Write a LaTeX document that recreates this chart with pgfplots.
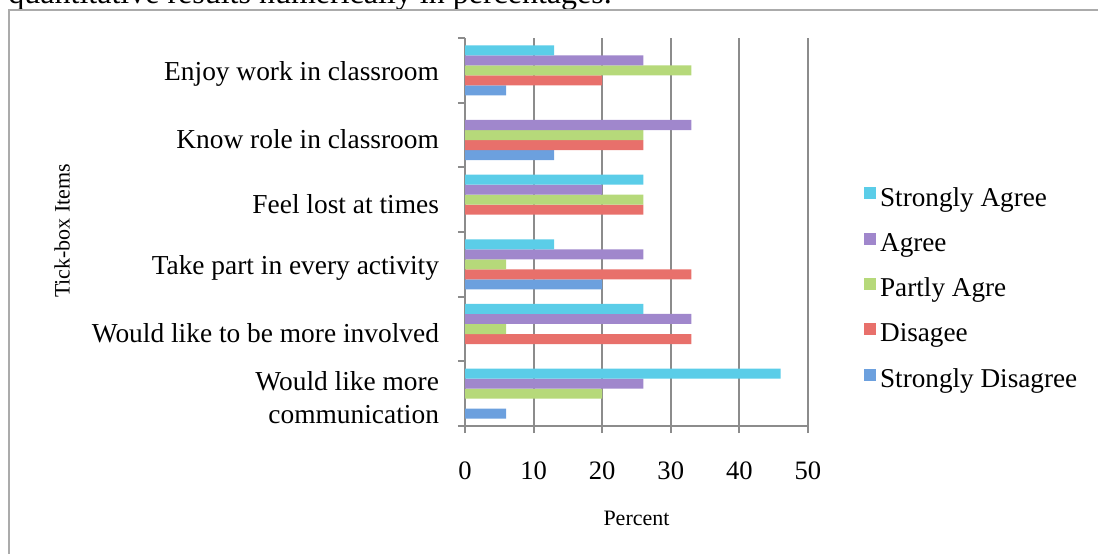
\documentclass[border=0pt]{standalone}
\usepackage{pgfplots}
\pgfplotsset{compat=1.18}
\usepackage{fontspec}
\setmainfont{Liberation Serif}
\definecolor{cSA}{HTML}{5BCDE8}
\definecolor{cAG}{HTML}{A087CC}
\definecolor{cPA}{HTML}{B6D97A}
\definecolor{cDI}{HTML}{E8706B}
\definecolor{cSD}{HTML}{6CA0DE}
\definecolor{cgrid}{HTML}{8C8C8C}
\definecolor{cframe}{HTML}{ABABAB}
\begin{document}
\begin{tikzpicture}[x=1pt,y=1pt]
\useasboundingbox (0,0) rectangle (549,276.5);
\begin{scope}
\clip (0,0) rectangle (549,276.5);
\node[anchor=base west, inner sep=0pt, font=\fontsize{16}{18}\selectfont] at (4,274.5) {quantitative results numerically in percentages.};
\end{scope}
\draw[line width=1.2pt, color=cframe] (4.5,-1) -- (4.5,271.5) -- (550,271.5);
\begin{axis}[
  at={(232.5pt,63.5pt)}, anchor=south west, scale only axis,
  width=171.5pt, height=194pt,
  xbar, bar width=0.155,
  xmin=0, xmax=50, ymin=-0.5, ymax=5.5,
  axis x line*=bottom, axis y line*=left,
  axis line style={draw=cgrid, line width=1pt},
  tick align=outside, major tick length=3.5pt,
  tick style={draw=cgrid, line width=1pt},
  xtick={0,10,...,50},
  /pgf/number format/assume math mode=true,
  xmajorgrids, major grid style={draw=cgrid, line width=1pt},
  ytick={-0.5,0.5,...,5.5},
  y tick label as interval,
  yticklabels={{Would like more\\communication}, Would like to be more involved, Take part in every activity, Feel lost at times, Know role in classroom, Enjoy work in classroom},
  yticklabel style={font=\fontsize{13.7}{16.5}\selectfont, align=right, xshift=-6pt, yshift=-2pt},
  xticklabel style={font=\fontsize{13.3}{15}\selectfont, yshift=-11pt},
  xlabel={Percent},
  xlabel style={font=\fontsize{11}{13}\selectfont, at={(axis description cs:0.5,-0.237)}, anchor=center},
  ylabel={Tick-box Items},
  ylabel style={font=\fontsize{11}{13}\selectfont, at={(axis description cs:-1.175,0.503)}, anchor=center, rotate=0},
  legend style={at={(axis description cs:1.145,0.353)}, anchor=west, draw=none, fill=none,
    font=\fontsize{13.6}{16}\selectfont, row sep=8pt, legend cell align=left},
  legend image code/.code={\fill[#1,draw=none] (0pt,-0.5pt) rectangle (6pt,5.5pt);},
  reverse legend,
]
\addplot[fill=cSD, draw=none, bar shift=-0.31] coordinates {(6,5) (13,4) (20,2) (6,0)};
\addplot[fill=cDI, draw=none, bar shift=-0.155] coordinates {(20,5) (26,4) (26,3) (33,2) (33,1)};
\addplot[fill=cPA, draw=none, bar shift=0] coordinates {(33,5) (26,4) (26,3) (6,2) (6,1) (20,0)};
\addplot[fill=cAG, draw=none, bar shift=0.155] coordinates {(26,5) (33,4) (20,3) (26,2) (33,1) (26,0)};
\addplot[fill=cSA, draw=none, bar shift=0.31] coordinates {(13,5) (26,3) (13,2) (26,1) (46,0)};
\legend{Strongly Disagree, Disagee, Partly Agre, Agree, Strongly Agree}
\end{axis}
\end{tikzpicture}
\end{document}
